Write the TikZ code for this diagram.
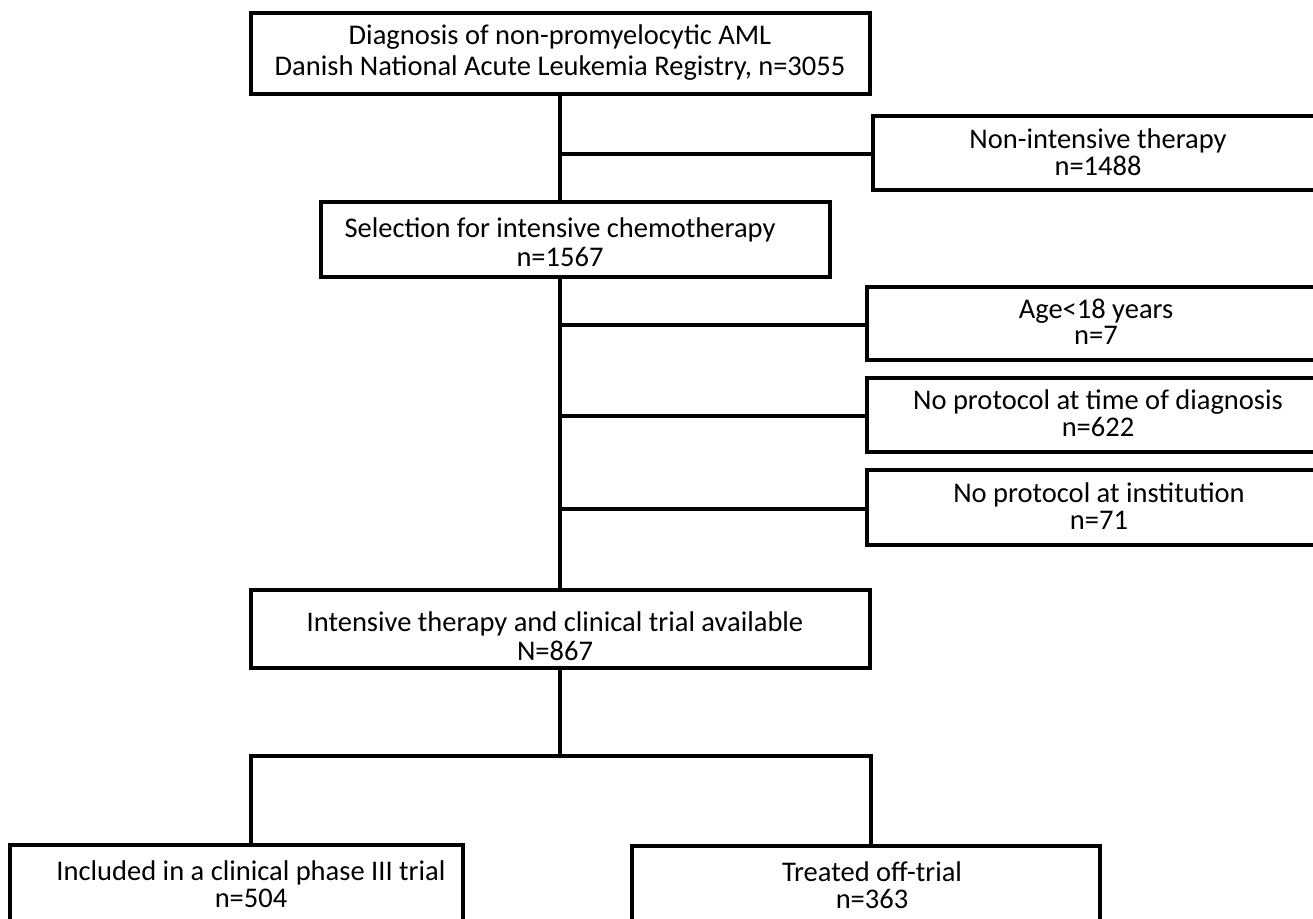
\documentclass[tikz,border=0pt]{standalone}
\usepackage{fontspec}
\setmainfont{Carlito}
\begin{document}
\begin{tikzpicture}[x=1pt,y=-1pt,
  box/.style={draw=black,line width=3.4pt,inner sep=0pt,fill=none},
  txt/.style={align=center,inner sep=0pt,font=\fontsize{28.5}{#1}\selectfont},
  txt/.default=26.5,
  conn/.style={draw=black,line width=3.4pt}]
\clip (0,0) rectangle (1313,918);
\useasboundingbox (0,0) rectangle (1313,918);
% boxes
\node[box,minimum width=619pt,minimum height=81pt] (top) at (560.5,53.5) {};
\node[box,minimum width=460pt,minimum height=74pt] (nonint) at (1103,153) {};
\node[box,minimum width=509pt,minimum height=75pt] (sel) at (575.5,239.5) {};
\node[box,minimum width=460pt,minimum height=73pt] (age) at (1097,323.5) {};
\node[box,minimum width=460pt,minimum height=74pt] (proto) at (1097,415) {};
\node[box,minimum width=460pt,minimum height=75pt] (inst) at (1097,507.5) {};
\node[box,minimum width=619pt,minimum height=78pt] (inten) at (560.5,629) {};
\node[box,minimum width=453pt,minimum height=120pt] (incl) at (236.5,905) {};
\node[box,minimum width=468pt,minimum height=120pt] (off) at (866,906) {};
% texts
\node[txt=31] (ttop) at (560,53) {Diagnosis of non-promyelocytic AML\\Danish National Acute Leukemia Registry, n=3055};
\node[txt] (tnonint) at (1098,152) {Non-intensive therapy\\n=1488};
\node[txt=28.5] (tsel) at (560,242) {Selection for intensive chemotherapy\\n=1567};
\node[txt] (tage) at (1096,322) {Age<18 years\\n=7};
\node[txt] (tproto) at (1098,413) {No protocol at time of diagnosis\\n=622};
\node[txt] (tinst) at (1099,506) {No protocol at institution\\n=71};
\node[txt=29] (tinten) at (555,636) {Intensive therapy and clinical trial available\\N=867};
\node[txt] (tincl) at (251,884) {Included in a clinical phase III trial\\n=504};
\node[txt] (toff) at (872,885) {Treated off-trial\\n=363};
% connectors
\coordinate (j1) at (560,154);
\coordinate (j2) at (560,325);
\coordinate (j3) at (560,416);
\coordinate (j4) at (560,509);
\coordinate (split) at (560,756);
\coordinate (sl) at (251,756);
\coordinate (sr) at (871,756);
\draw[conn] (top.south -| j1) -- (sel.north -| j1);
\draw[conn] (j1) -- (j1 -| nonint.west);
\draw[conn] (sel.south -| j2) -- (inten.north -| j2);
\draw[conn] (j2) -- (j2 -| age.west);
\draw[conn] (j3) -- (j3 -| proto.west);
\draw[conn] (j4) -- (j4 -| inst.west);
\draw[conn] (inten.south -| split) -- (split);
\draw[conn,line join=miter] (incl.north -| sl) -- (sl) -- (sr) -- (off.north -| sr);
\end{tikzpicture}
\end{document}
